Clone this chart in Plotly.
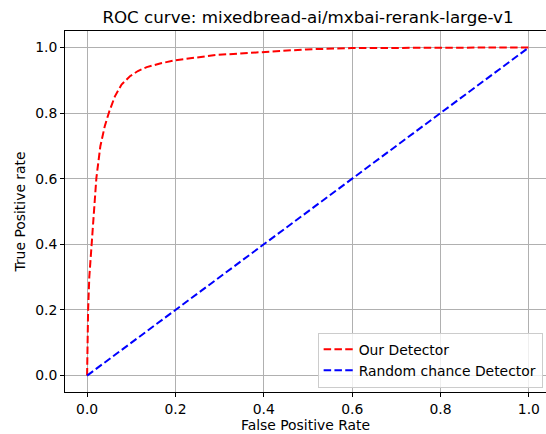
import plotly.graph_objects as go

# Data
fpr = [0.0, 0.0005, 0.001, 0.0023, 0.005, 0.010, 0.0152, 0.021, 0.030, 0.040,
       0.050, 0.063, 0.078, 0.097, 0.115, 0.135, 0.165, 0.200, 0.293, 0.399,
       0.497, 0.599, 0.800, 1.0]
tpr = [0.0, 0.05, 0.10, 0.20, 0.30, 0.40, 0.506, 0.602, 0.699, 0.760,
       0.804, 0.851, 0.887, 0.912, 0.928, 0.940, 0.951, 0.961, 0.977, 0.987,
       0.994, 0.998, 1.0, 1.0]
rand_x = [0.0, 1.0]
rand_y = [0.0, 1.0]

title_text = "ROC curve: mixedbread-ai/mxbai-rerank-large-v1"
x_ticks = [0.0, 0.2, 0.4, 0.6, 0.8, 1.0]
y_ticks = [0.0, 0.2, 0.4, 0.6, 0.8, 1.0]
tick_labels = ["0.0", "0.2", "0.4", "0.6", "0.8", "1.0"]

FONT = "DejaVu Sans"

fig = go.Figure()
fig.add_trace(go.Scatter(x=fpr, y=tpr, mode="lines", name="Our Detector",
                         line=dict(color="#ff0000", width=2, dash="7.5px,3.3px")))
fig.add_trace(go.Scatter(x=rand_x, y=rand_y, mode="lines", name="Random chance Detector",
                         line=dict(color="#0000ff", width=2, dash="7.5px,3.3px")))

axis_common = dict(
    showgrid=True, gridcolor="#b0b0b0", gridwidth=0.8,
    zeroline=False, showline=True, linecolor="black", linewidth=1,
    ticks="outside", ticklen=4, tickwidth=1, tickcolor="black",
    tickfont=dict(family=FONT, size=13.9, color="black"),
)

fig.update_layout(
    width=546, height=434,
    margin=dict(l=65, r=0, t=31, b=42),
    paper_bgcolor="white", plot_bgcolor="white",
    font=dict(family=FONT, size=13.9, color="black"),
    title=dict(text=title_text, x=(308) / 546, xanchor="center",
               y=1 - 17 / 434, yanchor="middle", yref="container",
               font=dict(family=FONT, size=16.7, color="black")),
    xaxis=dict(range=[-0.05, 1.0387], tickvals=x_ticks, ticktext=tick_labels,
               mirror=True,
               title=dict(text="False Positive Rate", standoff=4,
                          font=dict(family=FONT, size=13.9, color="black")),
               **axis_common),
    yaxis=dict(range=[-0.05, 1.05], tickvals=y_ticks, ticktext=tick_labels,
               mirror=False,
               title=dict(text="True Positive rate", standoff=6,
                          font=dict(family=FONT, size=13.9, color="black")),
               **axis_common),
    legend=dict(x=0.993, y=0.012, xanchor="right", yanchor="bottom",
                bgcolor="rgba(255,255,255,0.8)", bordercolor="#cccccc", borderwidth=1,
                font=dict(family=FONT, size=13.9, color="black"),
                tracegroupgap=0, itemwidth=30),
    showlegend=True,
)

fig.write_html("out.html",
               config={"displayModeBar": False},
               post_script="document.body.style.margin='0';document.body.style.overflow='hidden';")
